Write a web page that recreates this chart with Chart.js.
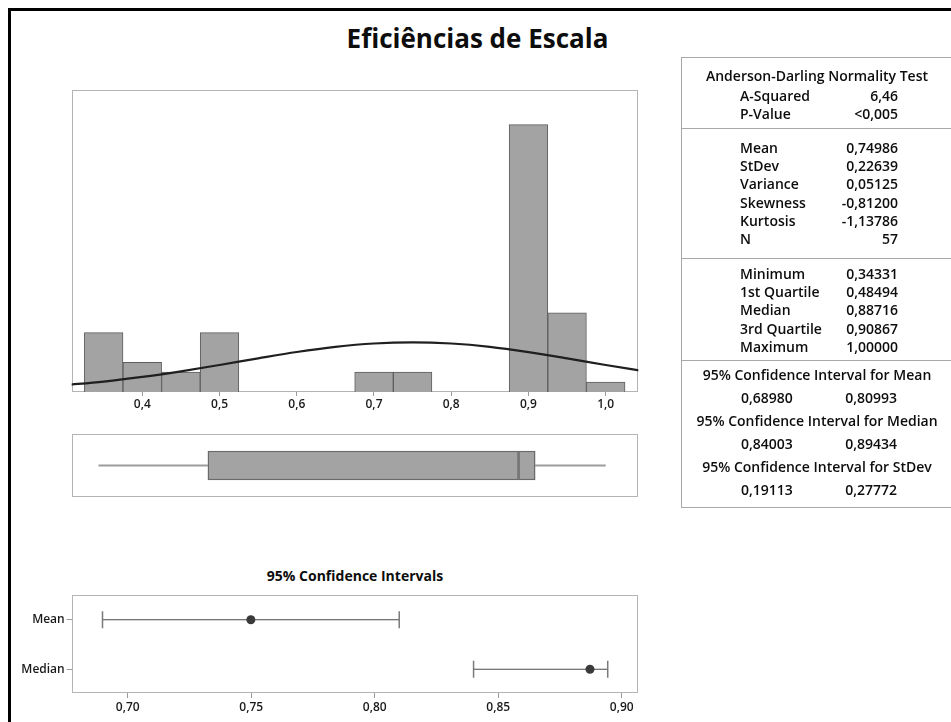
<!DOCTYPE html>
<html><head><meta charset="utf-8">
<script src="https://cdn.jsdelivr.net/npm/chart.js@4.4.1/dist/chart.umd.min.js"></script>
<style>
html,body{margin:0;padding:0;background:#fff;}
#wrap{position:relative;width:951px;height:722px;overflow:hidden;background:#fff;font-family:'Open Sans',sans-serif;color:#0d0d0d;}
#outer{position:absolute;left:8px;top:8px;width:980px;height:760px;border-left:3px solid #000;border-top:3px solid #000;}
canvas{position:absolute;}
.t{position:absolute;white-space:nowrap;font-weight:600;font-size:14px;line-height:18px;height:18px;}
.hl{position:absolute;height:0;border-top:1px solid #a8a8a8;}
#title{position:absolute;left:0;width:955px;text-align:center;top:20px;font-weight:700;font-size:26px;line-height:36px;}
#citle{position:absolute;left:71px;width:568px;text-align:center;top:566px;font-weight:700;font-size:14px;line-height:20px;}
#tbl{position:absolute;left:681px;top:57px;width:272px;height:449px;border:1px solid #a8a8a8;}
</style></head>
<body>
<div id="wrap">
  <div id="outer"></div>
  <div id="title">Eficiências de Escala</div>
  <canvas id="hist" width="680" height="370" style="left:0;top:60px;width:680px;height:370px"></canvas>
  <canvas id="box" width="680" height="80" style="left:0;top:425px;width:680px;height:80px"></canvas>
  <div id="citle">95% Confidence Intervals</div>
  <canvas id="ci" width="680" height="137" style="left:0;top:585px;width:680px;height:137px"></canvas>
  <div id="tbl"></div>
  <div id="tx"></div>
</div>
<script>
// ---------- data ----------
const binCenters = [0.35,0.40,0.45,0.50,0.55,0.60,0.65,0.70,0.75,0.80,0.85,0.90,0.95,1.00];
const binCounts  = [6,3,2,6,0,0,0,2,2,0,0,27,8,1];
const histTicks  = [0.4,0.5,0.6,0.7,0.8,0.9,1.0];
const normalX = [0.30,0.35,0.40,0.45,0.50,0.55,0.60,0.65,0.70,0.75,0.80,0.85,0.90,0.95,1.00,1.05];
const normalY = [0.70,1.05,1.52,2.09,2.73,3.40,4.04,4.56,4.90,5.02,4.90,4.56,4.03,3.40,2.73,2.09];

const adLabels = ['A-Squared','P-Value'];
const adValues = ['6,46','<0,005'];
const descLabels = ['Mean','StDev','Variance','Skewness','Kurtosis','N'];
const descValues = [0.74986,0.22639,0.05125,-0.81200,-1.13786,57];
const quantLabels = ['Minimum','1st Quartile','Median','3rd Quartile','Maximum'];
const quantValues = [0.34331,0.48494,0.88716,0.90867,1.00000];
const ciHeaders = ['95% Confidence Interval for Mean','95% Confidence Interval for Median','95% Confidence Interval for StDev'];
const ciLow  = [0.68980,0.84003,0.19113];
const ciHigh = [0.80993,0.89434,0.27772];

const ciLabels = ['Mean','Median'];
const ciCenter = [0.74986,0.88716];
const ciTicks  = [0.70,0.75,0.80,0.85,0.90];

// ---------- helpers ----------
const fmt = (v,d) => v.toFixed(d).replace('.',',');
const tickFont = {family:"'Open Sans', sans-serif", size:12, weight:'600'};
const framePlugin = {id:'frame', beforeDatasetsDraw(chart){
  const a = chart.chartArea, c = chart.ctx;
  c.save(); c.strokeStyle = '#b4b4b4'; c.lineWidth = 1;
  const l = Math.round(a.left)+0.5, t = Math.round(a.top)+0.5, r = Math.round(a.right)-0.5, b = Math.round(a.bottom)-0.5;
  c.strokeRect(l, t, r-l, b-t); c.restore();
}};
const common = {responsive:false, animation:false, events:[], plugins:{legend:{display:false}, tooltip:{enabled:false}, title:{display:false}}};

// ---------- histogram ----------
new Chart(document.getElementById('hist'), {
  data:{datasets:[
    {type:'bar', data: binCenters.map((c,i)=>({x:c, y:binCounts[i]})), backgroundColor:'#a3a3a3', borderColor:'#5e5e5e', borderWidth:1, barPercentage:1, categoryPercentage:1, order:2},
    {type:'line', data: normalX.map((x,i)=>({x:x, y:normalY[i]})), borderColor:'#1f1f1f', borderWidth:2.2, pointRadius:0, tension:0.4, cubicInterpolationMode:'monotone', clip:0, order:1}
  ]},
  options:Object.assign({}, common, {
    layout:{padding:{left:71.7, right:41.7, top:30, bottom:0}},
    scales:{
      x:{type:'linear', offset:false, min:0.3086, max:1.0422,
         afterBuildTicks: s => { s.ticks = histTicks.map(v=>({value:v})); },
         afterFit: s => { s.height = 38; },
         ticks:{callback: v => fmt(v,1), font:tickFont, color:'#1a1a1a', padding:1, maxRotation:0, autoSkip:false},
         grid:{display:true, drawOnChartArea:false, drawTicks:true, tickLength:4, color:'#9a9a9a', offset:false},
         border:{display:false}},
      y:{display:false, min:0, max:30.5}
    }
  }),
  plugins:[framePlugin]
});

// ---------- box plot ----------
const [bMin,bQ1,bMed,bQ3,bMax] = quantValues;
new Chart(document.getElementById('box'), {
  type:'bar',
  data:{datasets:[
    {type:'bar', data:[{x:[bQ1,bMed], y:0.5}], backgroundColor:'#a3a3a3', borderColor:'#6a6a6a', borderWidth:1.5, borderSkipped:false, barThickness:29, grouped:false, order:1},
    {type:'bar', data:[{x:[bMed,bQ3], y:0.5}], backgroundColor:'#a3a3a3', borderColor:'#6a6a6a', borderWidth:1.5, borderSkipped:false, barThickness:29, grouped:false, order:1},
    {type:'line', data:[{x:bMin,y:0.5},{x:bQ1,y:0.5}], borderColor:'#9c9c9c', borderWidth:2, pointRadius:0, order:2},
    {type:'line', data:[{x:bQ3,y:0.5},{x:bMax,y:0.5}], borderColor:'#9c9c9c', borderWidth:2, pointRadius:0, order:2}
  ]},
  options:Object.assign({}, common, {
    indexAxis:'y',
    layout:{padding:{left:71.7, right:41.7, top:9, bottom:8}},
    scales:{
      x:{type:'linear', display:false, offset:false, min:0.3086, max:1.0422},
      y:{type:'linear', display:false, offset:false, min:0, max:1}
    }
  }),
  plugins:[framePlugin]
});

// ---------- confidence intervals ----------
const ciSets = [];
ciLabels.forEach((lab,i)=>{
  ciSets.push({type:'line', data:[{x:ciLow[i],y:i},{x:ciHigh[i],y:i}], borderColor:'#4a4a4a', borderWidth:1.2,
    pointStyle:'line', pointRotation:90, pointRadius:8.5, pointBorderColor:'#7a7a7a', pointBorderWidth:1.5, order:2});
  ciSets.push({type:'scatter', data:[{x:ciCenter[i], y:i}], pointRadius:4.5, pointBackgroundColor:'#3a3a3a', pointBorderColor:'#3a3a3a', pointBorderWidth:0, order:1});
});
new Chart(document.getElementById('ci'), {
  data:{datasets:ciSets},
  options:Object.assign({}, common, {
    layout:{padding:{left:0, right:41.7, top:6, bottom:0}},
    scales:{
      x:{type:'linear', offset:false, min:0.67733, max:0.90672,
         afterBuildTicks: s => { s.ticks = ciTicks.map(v=>({value:v})); },
         afterFit: s => { s.height = 29; },
         ticks:{callback: v => fmt(v,2), font:tickFont, color:'#1a1a1a', padding:2, maxRotation:0, autoSkip:false},
         grid:{display:true, drawOnChartArea:false, tickLength:5, color:'#9a9a9a'},
         border:{display:false}},
      y:{type:'linear', offset:false, min:-0.5, max:1.48, reverse:true,
         afterBuildTicks: s => { s.ticks = ciLabels.map((l,i)=>({value:i})); },
         afterFit: s => { s.width = 71.7; },
         ticks:{callback: v => ciLabels[v], font:tickFont, color:'#1a1a1a', padding:2, autoSkip:false},
         grid:{display:true, drawOnChartArea:false, tickLength:5, color:'#9a9a9a'},
         border:{display:false}}
    }
  }),
  plugins:[framePlugin]
});

// ---------- summary table ----------
const tx = document.getElementById('tx');
function put(text, x, y, align){
  const d = document.createElement('div'); d.className='t'; d.textContent = text;
  d.style.top = (y-9)+'px';
  if(align==='c'){ d.style.left=(x-150)+'px'; d.style.width='300px'; d.style.textAlign='center'; }
  else if(align==='r'){ d.style.left=(x-150)+'px'; d.style.width='150px'; d.style.textAlign='right'; }
  else { d.style.left=x+'px'; }
  tx.appendChild(d);
}
function hline(y){ const d=document.createElement('div'); d.className='hl'; d.style.left='681px'; d.style.width='272px'; d.style.top=y+'px'; tx.appendChild(d); }
const cx = 817, labX = 740, valR = 898, step = 18.2;
put('Anderson-Darling Normality Test', cx, 76, 'c');
adLabels.forEach((l,i)=>{ put(l, labX, 96+i*17.5); put(adValues[i], valR, 96+i*17.5, 'r'); });
hline(128);
descLabels.forEach((l,i)=>{ const v=descValues[i]; put(l, labX, 148+i*step); put(Number.isInteger(v)?String(v):fmt(v,5), valR, 148+i*step, 'r'); });
hline(258);
quantLabels.forEach((l,i)=>{ put(l, labX, 274+i*step); put(fmt(quantValues[i],5), valR, 274+i*step, 'r'); });
hline(360);
ciHeaders.forEach((h,i)=>{ const y0 = 375 + i*46; put(h, cx, y0, 'c'); put(fmt(ciLow[i],5), 741, y0+22.5); put(fmt(ciHigh[i],5), 897, y0+22.5, 'r'); });
</script>
</body></html>
